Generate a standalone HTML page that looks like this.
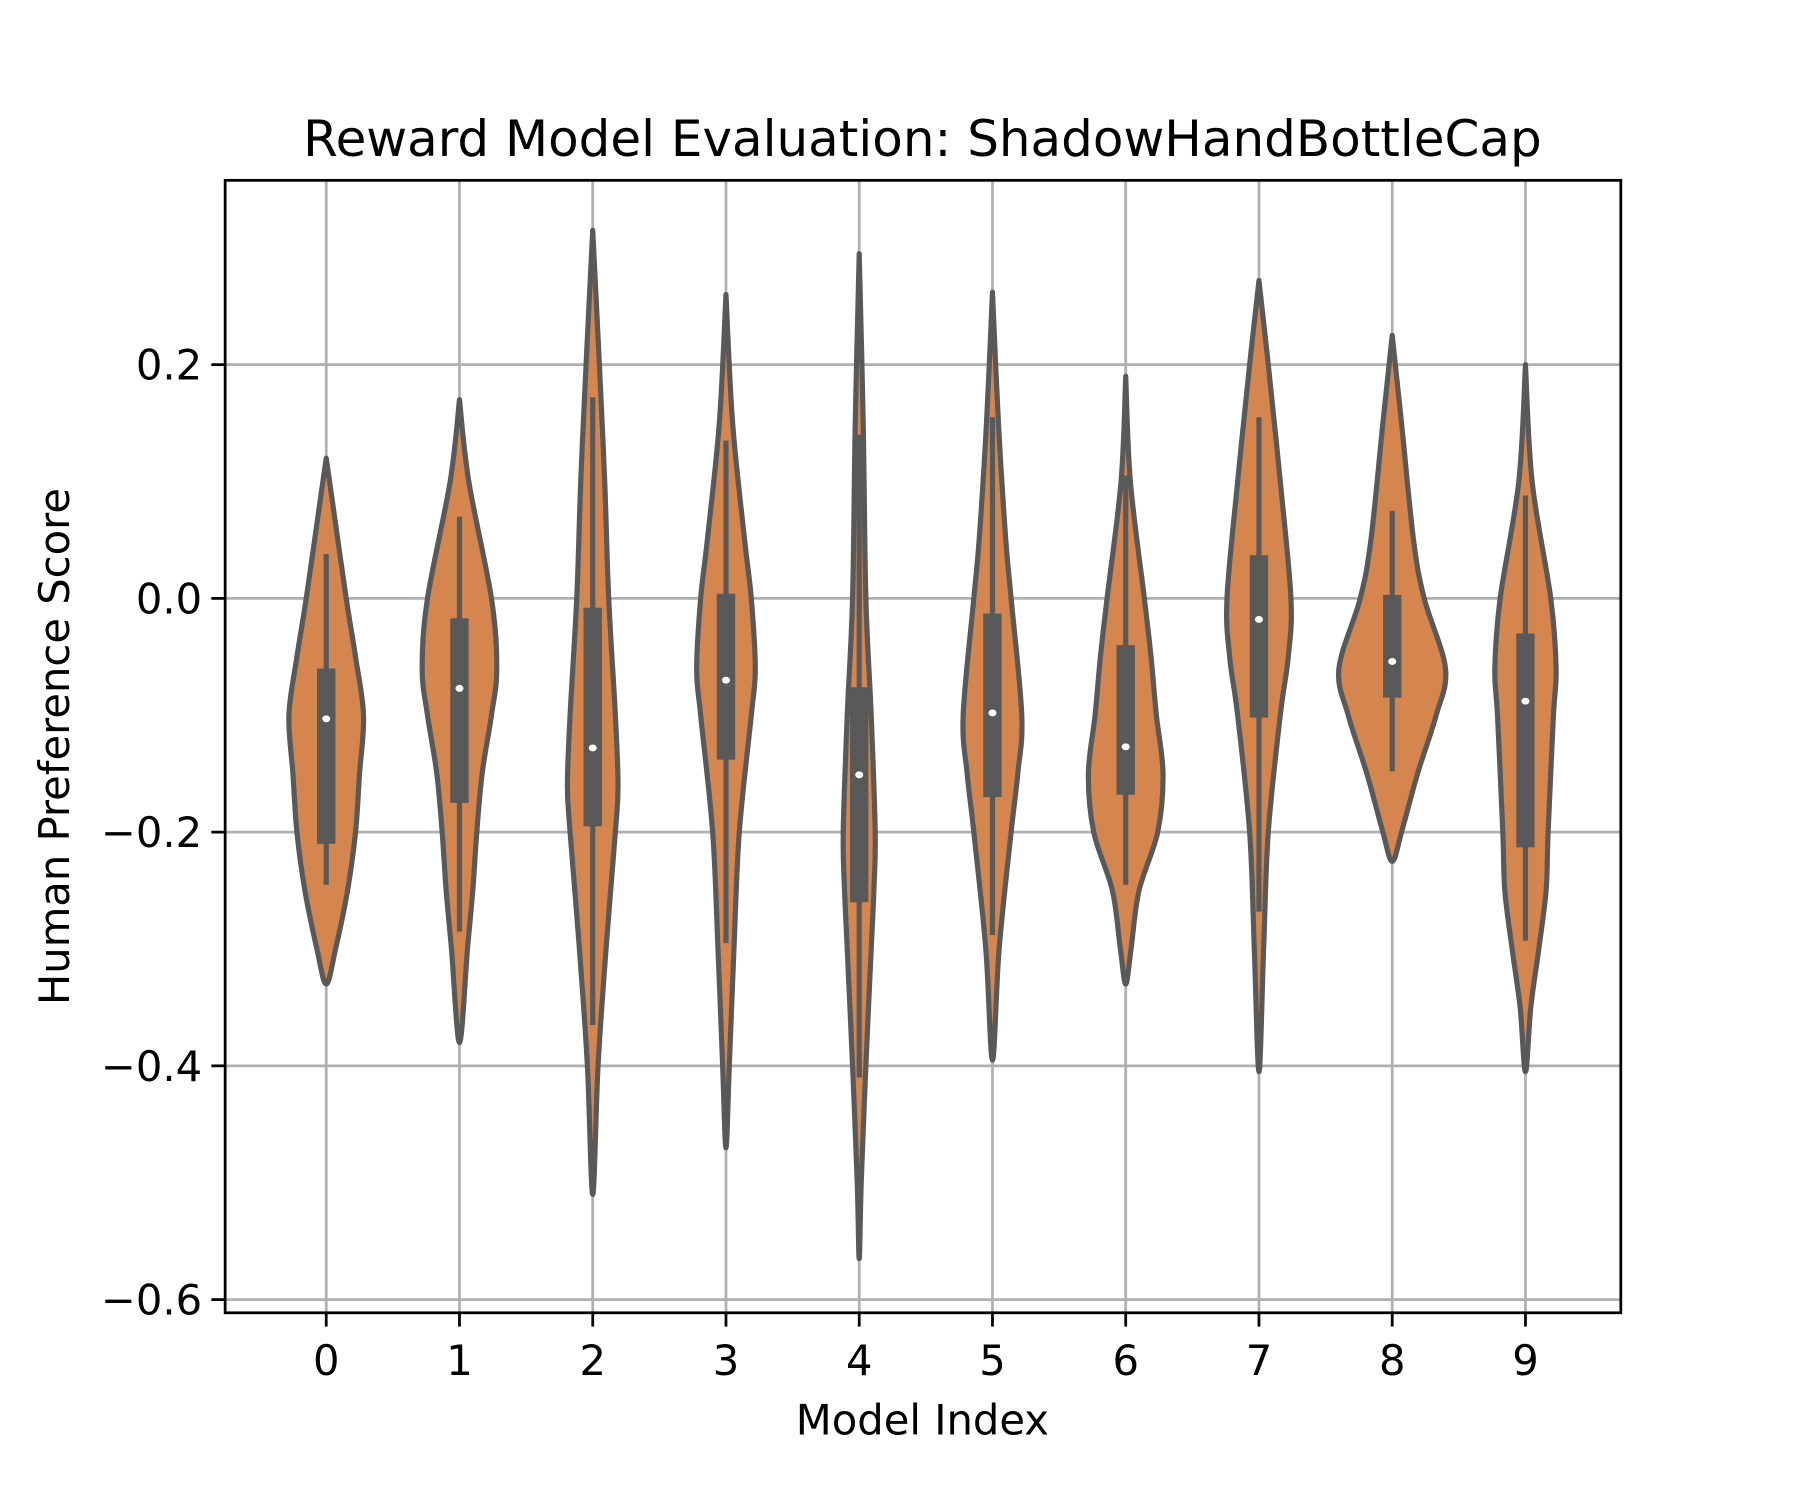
<!DOCTYPE html>
<html><head><meta charset="utf-8"><style>html,body{margin:0;padding:0;background:#fff}svg{display:block}</style></head>
<body>
<svg id="chart" xmlns="http://www.w3.org/2000/svg" width="1800" height="1500" viewBox="0 0 1567 1306" preserveAspectRatio="none" font-family="'DejaVu Sans','Liberation Sans',sans-serif">
<rect x="0" y="0" width="1567" height="1306" fill="#fff"/>
<g id="grid"></g>
<g id="violins"></g>
<rect x="196" y="157" width="1215" height="986" fill="none" stroke="#000" stroke-width="2.4"/>
<g id="ticks"></g>
<text x="803" y="136" font-size="43.5" text-anchor="middle">Reward Model Evaluation: ShadowHandBottleCap</text>
<text x="803" y="1249" font-size="36.3" text-anchor="middle">Model Index</text>
<text x="0" y="0" font-size="36.3" text-anchor="middle" transform="translate(60,650) rotate(-90)">Human Preference Score</text>
</svg>
<script>
const categories = ["0","1","2","3","4","5","6","7","8","9"];
const yTicks = [0.2, 0.0, -0.2, -0.4, -0.6];
const yTickLabels = ["0.2", "0.0", "\u22120.2", "\u22120.4", "\u22120.6"];
const q1 = [-0.21,-0.175,-0.195,-0.138,-0.26,-0.17,-0.168,-0.102,-0.085,-0.213];
const q3 = [-0.06,-0.017,-0.008,0.004,-0.076,-0.013,-0.04,0.037,0.003,-0.03];
const medians = [-0.103,-0.077,-0.128,-0.07,-0.151,-0.098,-0.127,-0.018,-0.054,-0.088];
const whiskLo = [-0.245,-0.285,-0.365,-0.295,-0.41,-0.288,-0.245,-0.268,-0.148,-0.293];
const whiskHi = [0.038,0.07,0.172,0.135,0.14,0.155,0.105,0.155,0.075,0.088];
// density profiles: [value, half-width in fraction of category spacing]
const profile0 = [[0.12,0],[0.08,0.05],[0.0,0.15],[-0.05,0.22],[-0.1,0.28],[-0.15,0.25],[-0.2,0.22],[-0.25,0.16],[-0.3,0.07],[-0.33,0]];
const profile1 = [[0.17,0],[0.1,0.07],[0.0,0.24],[-0.06,0.28],[-0.1,0.24],[-0.15,0.17],[-0.2,0.13],[-0.25,0.1],[-0.3,0.06],[-0.38,0]];
const profile2 = [[0.315,0],[0.2,0.05],[0.1,0.09],[0.0,0.12],[-0.1,0.17],[-0.16,0.19],[-0.2,0.17],[-0.3,0.1],[-0.4,0.04],[-0.51,0]];
const profile3 = [[0.26,0],[0.15,0.05],[0.05,0.14],[0.0,0.19],[-0.06,0.22],[-0.1,0.19],[-0.2,0.1],[-0.3,0.06],[-0.4,0.025],[-0.47,0]];
const profile4 = [[0.295,0],[0.15,0.03],[0.0,0.05],[-0.1,0.09],[-0.2,0.12],[-0.25,0.11],[-0.3,0.09],[-0.4,0.05],[-0.5,0.015],[-0.565,0]];
const profile5 = [[0.262,0],[0.15,0.045],[0.05,0.1],[0.0,0.14],[-0.1,0.22],[-0.15,0.19],[-0.2,0.14],[-0.3,0.05],[-0.395,0]];
const profile6 = [[0.19,0],[0.1,0.035],[0.0,0.14],[-0.05,0.19],[-0.1,0.23],[-0.15,0.28],[-0.2,0.24],[-0.25,0.1],[-0.3,0.04],[-0.33,0]];
const profile7 = [[0.272,0],[0.2,0.07],[0.1,0.16],[0.0,0.24],[-0.05,0.22],[-0.1,0.16],[-0.2,0.07],[-0.3,0.035],[-0.405,0]];
const profile8 = [[0.225,0],[0.15,0.07],[0.05,0.16],[0.0,0.24],[-0.06,0.4],[-0.1,0.33],[-0.15,0.19],[-0.2,0.07],[-0.225,0]];
const profile9 = [[0.2,0],[0.1,0.05],[0.0,0.19],[-0.06,0.23],[-0.1,0.21],[-0.2,0.17],[-0.25,0.155],[-0.3,0.1],[-0.35,0.04],[-0.405,0]];
const profiles = [profile0,profile1,profile2,profile3,profile4,profile5,profile6,profile7,profile8,profile9];

const NS = "http://www.w3.org/2000/svg";
const X0 = 284, XSTEP = 116, Y0 = 521, YSCALE = 1017.5;
const L = 196, R = 1411, T = 157, B = 1143;
function xs(i){ return X0 + XSTEP * i; }
function ys(v){ return Y0 - v * YSCALE; }
function mk(tag, attrs, parent){ const e = document.createElementNS(NS, tag); for (const k in attrs) e.setAttribute(k, attrs[k]); parent.appendChild(e); return e; }

const grid = document.getElementById('grid');
const ticks = document.getElementById('ticks');
const vg = document.getElementById('violins');

categories.forEach((c, i) => {
  const gl = mk('line', {x1: xs(i), x2: xs(i), y1: T, y2: B, stroke: '#b0b0b0', 'stroke-width': 2.4}, grid);
  
  
  const tk = mk('line', {x1: xs(i), x2: xs(i), y1: B, y2: B + 12, stroke: '#000', 'stroke-width': 2.4}, ticks);
  
  
  const tl = mk('text', {x: xs(i), y: B + 54, 'font-size': 36.3, 'text-anchor': 'middle'}, ticks);
  tl.textContent = c;
  
  
});
yTicks.forEach((v, i) => {
  const gl = mk('line', {x1: L, x2: R, y1: ys(v), y2: ys(v), stroke: '#b0b0b0', 'stroke-width': 2.4}, grid);
  
  
  const tk = mk('line', {x1: L - 12, x2: L, y1: ys(v), y2: ys(v), stroke: '#000', 'stroke-width': 2.4}, ticks);
  
  
  const tl = mk('text', {x: L - 20, y: ys(v) + 13, 'font-size': 36.3, 'text-anchor': 'end'}, ticks);
  tl.textContent = yTickLabels[i];
  
  
});

function smoothPath(pts){
  let d = 'M' + pts[0][0].toFixed(2) + ',' + pts[0][1].toFixed(2);
  for (let i = 0; i < pts.length - 1; i++){
    const p0 = pts[Math.max(0, i - 1)], p1 = pts[i], p2 = pts[i + 1], p3 = pts[Math.min(pts.length - 1, i + 2)];
    const c1x = p1[0] + (p2[0] - p0[0]) / 6, c1y = p1[1] + (p2[1] - p0[1]) / 6;
    const c2x = p2[0] - (p3[0] - p1[0]) / 6, c2y = p2[1] - (p3[1] - p1[1]) / 6;
    d += 'C' + c1x.toFixed(2) + ',' + c1y.toFixed(2) + ' ' + c2x.toFixed(2) + ',' + c2y.toFixed(2) + ' ' + p2[0].toFixed(2) + ',' + p2[1].toFixed(2);
  }
  return d;
}

profiles.forEach((prof, i) => {
  const cx = xs(i);
  const right = prof.map(p => [cx + p[1] * XSTEP, ys(p[0])]);
  const left = prof.slice().reverse().map(p => [cx - p[1] * XSTEP, ys(p[0])]);
  const pts = right.concat(left.slice(1));
  const body = mk('path', {d: smoothPath(pts) + 'Z', fill: '#d4864e', stroke: '#595959', 'stroke-width': 4.5, 'stroke-linejoin': 'round'}, vg);
  
  
  const wh = mk('line', {x1: cx, x2: cx, y1: ys(whiskLo[i]), y2: ys(whiskHi[i]), stroke: '#595959', 'stroke-width': 4.5}, vg);
  
  
  const bx = mk('rect', {x: cx - 8, y: ys(q3[i]), width: 16, height: ys(q1[i]) - ys(q3[i]), fill: '#595959'}, vg);
  
  
  const md = mk('ellipse', {cx: cx, cy: ys(medians[i]), rx: 3.5, ry: 3, fill: '#fff'}, vg);
  
  
});
</script>
</body></html>
